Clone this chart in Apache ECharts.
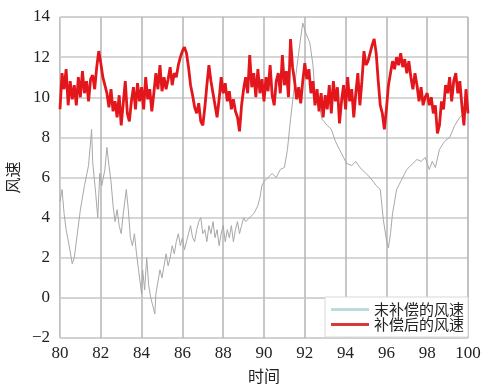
<!DOCTYPE html>
<html>
<head>
<meta charset="utf-8">
<script src="https://cdn.jsdelivr.net/npm/echarts@6/dist/echarts.min.js"></script>
<style>
html,body{margin:0;padding:0;background:#fff;}
#chart{width:488px;height:386px;}
</style>
</head>
<body>
<div id="chart"></div>
<script>
// 未补偿风速 (sparse trace: year, value)
var rawYears = [80.0,80.1,80.2,80.3,80.45,80.6,80.7,80.85,81.0,81.2,81.4,81.55,81.6,81.75,81.85,81.95,82.05,82.2,82.3,82.4,82.5,82.6,82.7,82.8,82.9,83.0,83.1,83.25,83.35,83.45,83.55,83.65,83.75,83.85,83.95,84.0,84.05,84.15,84.25,84.35,84.45,84.55,84.65,84.7,84.8,84.9,85.0,85.1,85.2,85.3,85.4,85.5,85.6,85.7,85.8,85.9,86.0,86.1,86.2,86.3,86.4,86.5,86.6,86.7,86.8,86.9,87.0,87.1,87.2,87.3,87.4,87.5,87.6,87.7,87.8,87.9,88.0,88.1,88.2,88.3,88.4,88.5,88.6,88.7,88.8,88.9,89.0,89.1,89.3,89.5,89.7,89.8,89.9,90.0,90.2,90.4,90.6,90.8,91.0,91.15,91.3,91.45,91.6,91.75,91.9,92.05,92.25,92.4,92.5,92.7,92.85,93.1,93.3,93.5,93.7,93.9,94.05,94.3,94.5,94.7,94.9,95.2,95.5,95.7,95.85,96.0,96.1,96.2,96.3,96.5,96.7,97.0,97.2,97.5,97.7,97.9,98.1,98.25,98.4,98.6,98.85,99.1,99.35,99.6,99.8,99.95];
var rawValues = [4.8,5.4,4.2,3.4,2.6,1.7,2.0,3.2,4.4,5.6,6.6,8.4,6.8,5.2,4.0,6.2,5.6,6.4,7.5,6.6,5.8,4.6,3.8,4.4,3.6,3.2,4.2,5.4,4.4,3.0,2.6,3.2,2.2,1.4,0.6,0.2,1.4,0.4,2.0,0.6,0.0,-0.4,-0.8,0.2,0.8,1.4,1.0,1.6,2.2,1.6,2.0,2.6,2.2,2.8,3.2,2.6,3.0,2.4,2.8,3.2,3.6,3.0,2.8,3.4,3.8,4.0,3.2,3.4,2.8,3.6,3.2,3.8,3.0,3.4,2.6,3.2,3.6,2.8,3.4,3.0,3.6,2.8,3.4,3.8,3.2,3.6,4.0,3.8,4.0,4.2,4.6,5.0,5.6,5.8,6.0,6.2,6.0,6.4,6.5,7.4,8.9,10.2,11.4,12.6,13.7,13.2,12.7,11.6,10.2,9.6,8.9,8.6,8.4,7.8,7.4,7.0,6.7,6.6,6.8,6.5,6.3,6.0,5.6,5.4,3.9,2.9,2.5,3.2,4.2,5.4,5.8,6.4,6.6,6.9,6.8,7.0,6.4,6.8,6.5,7.4,7.8,8.0,8.6,9.0,9.2,9.4];

// 补偿后风速, one value every 0.1 year from 80 to 100
var compStart = 80;
var compStep = 0.1;
var compValues = [
  9.4,11.2,10.4,11.4,9.6,10.8,9.9,10.6,9.6,11.0,
  10.0,11.3,10.2,10.8,9.8,10.9,11.1,10.4,11.5,12.3,
  11.7,11.0,10.6,10.2,9.5,10.4,9.3,9.8,9.0,10.1,
  8.6,9.7,10.8,9.2,8.8,9.8,10.5,9.4,10.7,9.8,
  10.5,9.4,11.0,9.9,10.4,9.3,10.2,11.2,10.4,11.6,
  10.3,11.0,10.4,10.9,11.5,10.6,11.2,11.0,11.6,12.0,
  12.3,12.5,12.2,11.5,10.6,10.1,9.5,9.2,9.7,8.8,
  8.6,9.5,10.6,11.6,10.8,10.2,9.6,9.0,9.9,11.0,
  10.2,10.7,9.8,10.3,9.4,9.9,9.3,9.0,8.3,9.6,
  10.4,11.0,10.2,12.1,10.5,11.2,10.0,11.4,10.2,10.9,
  9.8,11.0,10.3,11.6,10.1,9.6,10.8,11.2,10.2,12.1,
  10.6,11.3,10.0,12.9,11.5,10.8,9.9,10.5,9.7,10.8,
  11.7,10.9,11.4,10.2,10.8,9.6,10.4,9.3,10.2,9.0,
  10.1,9.4,10.6,9.2,10.8,9.8,10.5,8.7,9.8,10.6,
  9.4,11.0,9.8,10.4,9.0,10.2,11.2,9.6,10.8,12.3,
  11.6,11.8,12.2,12.6,12.9,12.2,10.8,9.6,9.2,8.4,
  9.4,10.6,11.2,11.8,11.4,12.0,11.6,12.2,11.5,11.9,
  11.2,11.8,11.0,10.4,11.2,10.6,9.8,10.5,9.6,10.0,
  10.2,9.6,10.0,9.2,9.6,8.2,8.6,9.8,9.4,10.6,
  10.2,11.0,9.8,10.8,11.2,10.2,10.8,9.6,8.6,10.4,
  9.2
];

var rawData = rawYears.map(function (y, i) { return [y, rawValues[i]]; });
var compData = compValues.map(function (v, i) { return [+(compStart + i * compStep).toFixed(2), v]; });

var serif = 'Liberation Serif';
var cjk = 'Noto Sans CJK SC';
var myChart = echarts.init(document.getElementById('chart'));
var option = {
  animation: false,
  backgroundColor: '#fff',
  grid: {
    left: 60, right: 20, top: 17, bottom: 48,
    outerBoundsMode: 'none', containLabel: false,
    show: true, borderColor: '#d4d4d4', borderWidth: 1
  },
  legend: {
    orient: 'vertical',
    right: 20,
    bottom: 49,
    backgroundColor: '#fff',
    borderColor: '#d8d8d8',
    borderWidth: 1,
    padding: [5, 4, 5, 6],
    itemGap: 0,
    itemWidth: 38,
    itemHeight: 3,
    icon: 'rect',
    textStyle: { fontFamily: cjk, fontSize: 15, color: '#222', lineHeight: 13 },
    data: [
      { name: '末补偿的风速', itemStyle: { color: '#bcdcdc' } },
      { name: '补偿后的风速', itemStyle: { color: '#d83a3a' } }
    ]
  },
  xAxis: {
    type: 'value',
    min: 80, max: 100, interval: 2,
    name: '时间',
    nameLocation: 'middle',
    nameGap: 30,
    nameTextStyle: { fontFamily: cjk, fontSize: 16, color: '#222' },
    axisLine: { show: true, lineStyle: { color: '#cfcfcf' } },
    axisTick: { show: false },
    axisLabel: { fontFamily: serif, fontSize: 17, color: '#222', margin: 7 },
    splitLine: { show: true, lineStyle: { color: '#b4b4b4', width: 1.5 } }
  },
  yAxis: {
    type: 'value',
    min: -2, max: 14, interval: 2,
    name: '风速',
    nameLocation: 'middle',
    nameGap: 34,
    nameTextStyle: { fontFamily: cjk, fontSize: 16, color: '#222' },
    axisLine: { show: true, lineStyle: { color: '#cfcfcf' } },
    axisTick: { show: false },
    axisLabel: {
      fontFamily: serif, fontSize: 17, color: '#222', margin: 10,
      formatter: function (v) { return String(v).replace('-', '\u2212'); }
    },
    splitLine: { show: true, lineStyle: { color: '#c8c8c8', width: 1.5 } }
  },
  series: [
    {
      name: '末补偿的风速',
      type: 'line',
      symbol: 'none',
      data: rawData,
      lineStyle: { color: '#a8a8a8', width: 1 },
      itemStyle: { color: '#a8a8a8' },
      z: 2
    },
    {
      name: '补偿后的风速',
      type: 'line',
      symbol: 'none',
      data: compData,
      lineStyle: { color: '#e3161c', width: 2.8 },
      itemStyle: { color: '#d63a3a' },
      z: 3
    }
  ]
};
myChart.setOption(option);
</script>
</body>
</html>
